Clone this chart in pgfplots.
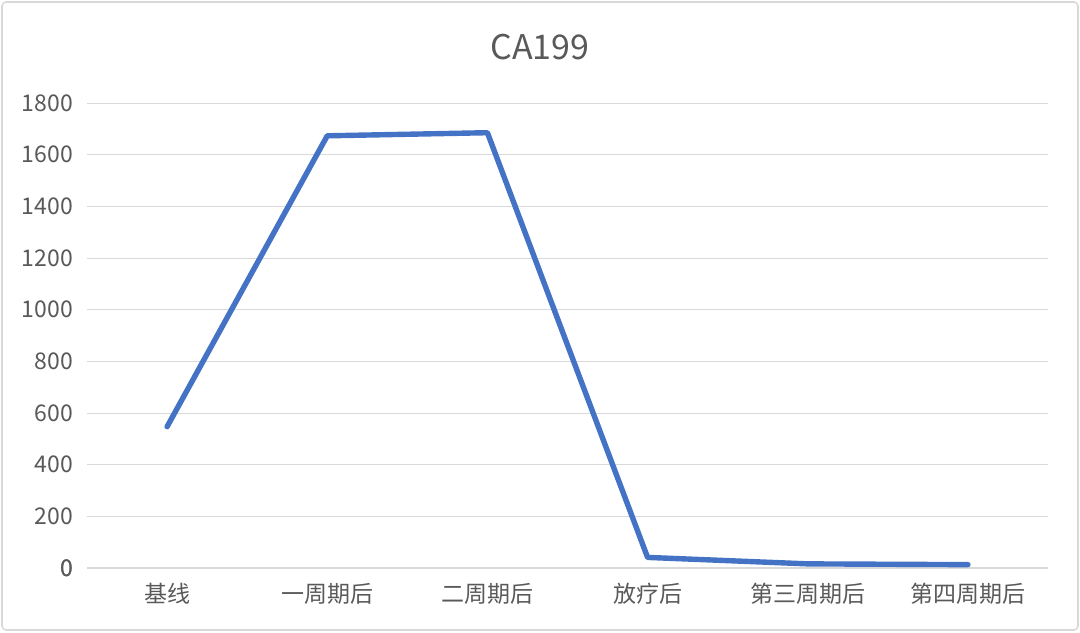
\documentclass[border=0pt]{standalone}
\usepackage{pgfplots}
\pgfplotsset{compat=1.18}
\usepackage{fontspec}
\setmainfont{Noto Sans CJK SC}
\definecolor{txtgray}{RGB}{89,89,89}
\definecolor{gridgray}{RGB}{217,217,217}
\definecolor{lineblue}{RGB}{68,114,196}
\begin{document}
\begin{tikzpicture}[x=0.5pt,y=0.5pt]
% page frame, 1080 x 632 px at 0.5pt per px
\path[use as bounding box] (0,0) rectangle (1080,632);
\draw[gridgray, line width=0.8pt, rounded corners=2pt] (2,2) rectangle (1078,630);
\node[text=txtgray, font=\fontsize{17}{20}\selectfont] at (540,585) {CA199};
\begin{axis}[
    at={(43.5pt,32pt)}, anchor=south west,
    scale only axis,
    width=480.5pt, height=232.5pt,
    xmin=-0.5, xmax=5.5,
    ymin=0, ymax=1800,
    xtick={0,1,2,3,4,5},
    xticklabels={基线,一周期后,二周期后,放疗后,第三周期后,第四周期后},
    ytick={0,200,...,1800},
    ymajorgrids,
    grid style={gridgray, line width=0.5pt},
    axis line style={draw=none},
    extra y ticks={0},
    extra y tick style={grid style={gridgray, line width=0.8pt}},
    major tick length=0pt,
    tick label style={text=txtgray, font=\fontsize{11.5}{13}\selectfont},
    /pgf/number format/assume math mode=true,
    /pgf/number format/1000 sep={},
    yticklabel style={xshift=-3.5pt},
    xticklabel style={yshift=-4pt},
    clip=false,
]
\addplot[lineblue, line width=2.7pt, line join=round, line cap=round]
    coordinates {(0,547) (1,1673) (2,1685) (3,41) (4,16) (5,13)};
\end{axis}
\end{tikzpicture}
\end{document}
